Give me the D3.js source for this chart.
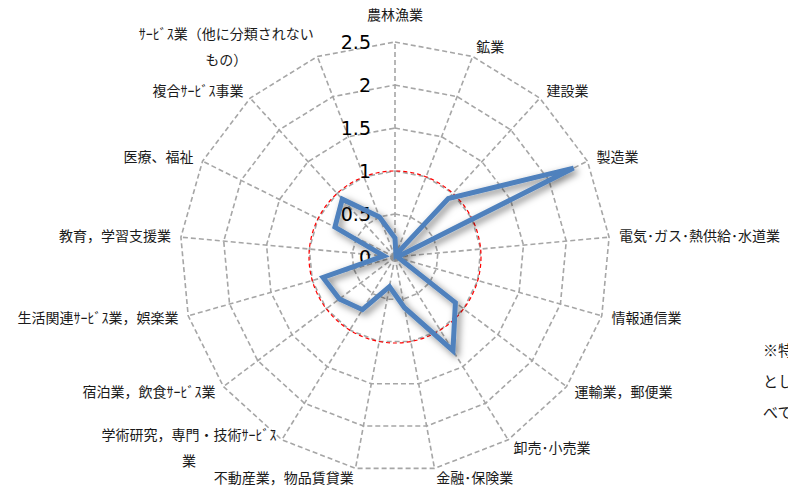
<!DOCTYPE html>
<html><head><meta charset="utf-8">
<script src="https://cdn.jsdelivr.net/npm/d3@7"></script>
<style>
html,body{margin:0;padding:0;background:#fff;}
svg{display:block;}
</style></head>
<body>
<svg id="c" width="788" height="486"></svg>
<script>
const categories = [
  ["農林漁業"],
  ["鉱業"],
  ["建設業"],
  ["製造業"],
  ["電気･ガス･熱供給･水道業"],
  ["情報通信業"],
  ["運輸業，郵便業"],
  ["卸売･小売業"],
  ["金融･保険業"],
  ["不動産業，物品賃貸業"],
  ["学術研究，専門・技術ｻｰﾋﾞｽ", "業"],
  ["宿泊業，飲食ｻｰﾋﾞｽ業"],
  ["生活関連ｻｰﾋﾞｽ業，娯楽業"],
  ["教育，学習支援業"],
  ["医療、福祉"],
  ["複合ｻｰﾋﾞｽ事業"],
  ["ｻｰﾋﾞｽ業（他に分類されない", "もの）"]
];
const values = [0.22, 0.03, 0.92, 2.32, 0.03, 0.05, 0.88, 1.28, 0.6, 0.35, 0.72, 0.81, 0.87, 0.13, 0.78, 0.91, 0.5];
const ticks = [0, 0.5, 1, 1.5, 2, 2.5];
const tickLabels = ["0", "0.5", "1", "1.5", "2", "2.5"];
const refValue = 1;
const noteLines = ["※特化係数は、全国を１", "として算出。数値はす", "べて…"];

const svg = d3.select("#c");
const cx = 395, cy = 257;
const r = d3.scaleLinear().domain([0, 2.5]).range([0, 215]);
const n = categories.length;
const ang = d3.scaleLinear().domain([0, n]).range([0, 2 * Math.PI]);
const pt = (i, v) => [cx + r(v) * Math.sin(ang(i)), cy - r(v) * Math.cos(ang(i))];

const defs = svg.append("defs");
const f = defs.append("filter").attr("id", "sh").attr("x", "-20%").attr("y", "-20%").attr("width", "140%").attr("height", "140%");
f.append("feDropShadow").attr("dx", 3).attr("dy", 3).attr("stdDeviation", 3.5).attr("flood-color", "#000").attr("flood-opacity", 0.5);

const grid = svg.append("g");
// rings
ticks.filter(t => t > 0).forEach(t => {
  const pts = d3.range(n).map(i => pt(i, t));
  grid.append("path")
    .attr("d", d3.line()(pts) + "Z")
    .attr("fill", "none").attr("stroke", "#a6a6a6").attr("stroke-width", 1.6)
    .attr("stroke-dasharray", "5,3");
});
// spokes
d3.range(n).forEach(i => {
  const [x, y] = pt(i, 2.5);
  grid.append("line").attr("x1", cx).attr("y1", cy).attr("x2", x).attr("y2", y)
    .attr("stroke", "#a6a6a6").attr("stroke-width", 1.6).attr("stroke-dasharray", "5,3");
});

// reference circle
svg.append("circle").attr("cx", cx).attr("cy", cy).attr("r", r(refValue))
  .attr("fill", "none").attr("stroke", "#ff0000").attr("stroke-width", 1.2).attr("stroke-dasharray", "4,3");

// tick labels
svg.append("g").selectAll("text").data(ticks).join("text")
  .attr("x", cx - 24).attr("y", d => cy - r(d))
  .attr("dy", "0.36em")
  .attr("text-anchor", "end")
  .attr("font-family", "DejaVu Sans, Verdana, sans-serif")
  .attr("font-size", 19).attr("fill", "#000")
  .text((d, i) => tickLabels[i]);

// data line
const linePts = values.map((v, i) => pt(i, v));
svg.append("path")
  .attr("d", d3.line()(linePts) + "Z")
  .attr("fill", "none").attr("stroke", "#4f81bd").attr("stroke-width", 5)
  .attr("stroke-linejoin", "miter").attr("filter", "url(#sh)");

// category labels
const lab = svg.append("g").attr("font-family", "'Noto Sans CJK JP', sans-serif").attr("font-size", 14).attr("fill", "#1a1a1a");
categories.forEach((lines, i) => {
  const a = ang(i);
  const s = Math.sin(a), c = Math.cos(a);
  const [px, py] = pt(i, 2.5 + 10 / 86 * 1);
  const lh = 25.5;
  const g = lab.append("g");
  const ts = lines.map((t, k) => g.append("text").text(t)
    .attr("dy", "0.35em"));
  if (Math.abs(s) < 0.1) {
    ts.forEach((t, k) => t.attr("x", px).attr("y", py - 17 + k * lh).attr("text-anchor", "middle"));
  } else if (lines.length > 1) {
    const w = d3.max(ts, t => t.node().getComputedTextLength());
    const mid = s > 0 ? px + w / 2 : px - w / 2;
    const y0 = py - (lines.length - 1) * lh / 2;
    ts.forEach((t, k) => t.attr("x", mid).attr("y", y0 + k * lh).attr("text-anchor", "middle"));
  } else {
    ts.forEach(t => t.attr("x", px).attr("y", py).attr("text-anchor", s > 0 ? "start" : "end"));
  }
});

// note (clipped by the right edge, as in the reference)
svg.append("g").attr("font-family", "'Noto Sans CJK JP', sans-serif").attr("font-size", 15).attr("fill", "#1a1a1a")
  .selectAll("text").data(noteLines).join("text")
  .attr("x", 763).attr("y", (d, i) => 351 + i * 31).attr("dy", "0.35em").text(d => d);
</script>
</body></html>
